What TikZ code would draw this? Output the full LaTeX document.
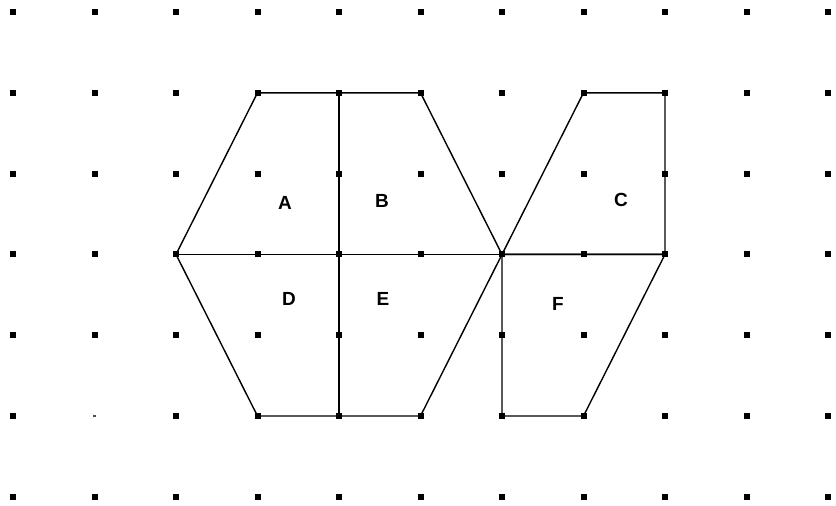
\documentclass[tikz,border=0pt]{standalone}
\usepackage{fontspec}
\setmainfont{Liberation Sans}
\begin{document}
\begin{tikzpicture}[x=1pt,y=-1pt,
  gdot/.style={fill=black,inner sep=0pt,minimum size=6pt,rectangle,draw=none},
  tinydot/.style={fill=black!70,inner sep=0pt,minimum size=2.5pt,rectangle,draw=none},
  edge/.style={draw=black,line width=1.4pt,line join=miter},
  lbl/.style={font=\fontsize{19}{19}\selectfont\bfseries,inner sep=0pt}]
\useasboundingbox[fill=white] (0,0) rectangle (836,506);
% grid coordinates
\foreach \i in {0,...,10}{
  \foreach \j in {0,...,6}{
    \coordinate (p\i-\j) at ({13+81.5*\i},{12+80.8*\j});
  }
}
% shapes
\draw[edge] (p3-1) -- (p5-1) -- (p6-3) -- (p5-5) -- (p3-5) -- (p2-3) -- cycle;
\draw[edge] (p4-1) -- (p4-5);
\draw[edge] (p2-3) -- (p8-3);
\draw[edge] (p7-1) -- (p8-1) -- (p8-3) -- (p6-3) -- cycle;
\draw[edge] (p6-3) -- (p8-3) -- (p7-5) -- (p6-5) -- cycle;
% dots
\foreach \i in {0,...,10}{
  \foreach \j in {0,...,6}{
    \ifnum\i=1 \ifnum\j=5 \node[tinydot] (d\i-\j) at (p\i-\j) {}; \else \node[gdot] (d\i-\j) at (p\i-\j) {}; \fi
    \else \node[gdot] (d\i-\j) at (p\i-\j) {}; \fi
  }
}
% labels
\node[lbl] (A) at (285,203) {A};
\node[lbl] (B) at (382,201) {B};
\node[lbl] (C) at (621,200) {C};
\node[lbl] (D) at (289,299) {D};
\node[lbl] (E) at (383,299) {E};
\node[lbl] (F) at (558,304) {F};
\end{tikzpicture}
\end{document}
